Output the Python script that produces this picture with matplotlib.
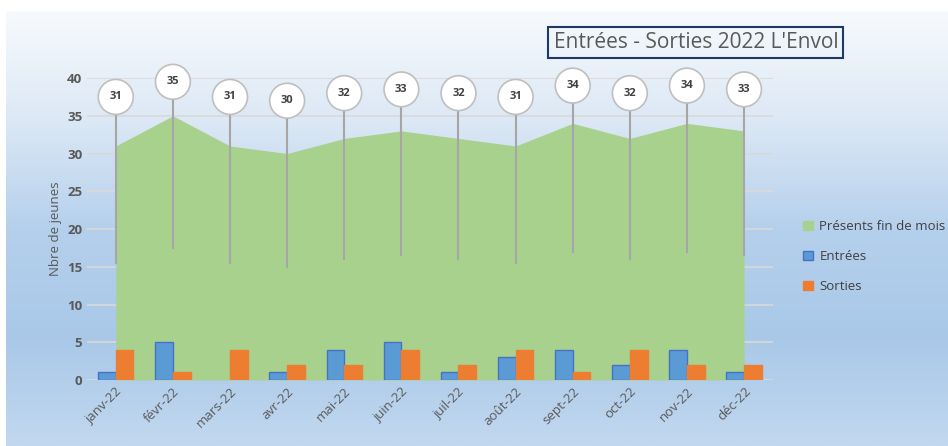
import numpy as np
import matplotlib.pyplot as plt
from matplotlib.colors import LinearSegmentedColormap
from matplotlib.patches import Patch

# Data
mois = ['janv-22', 'févr-22', 'mars-22', 'avr-22', 'mai-22', 'juin-22',
        'juil-22', 'août-22', 'sept-22', 'oct-22', 'nov-22', 'déc-22']
presents = [31, 35, 31, 30, 32, 33, 32, 31, 34, 32, 34, 33]
entrees = [1, 5, 0, 1, 4, 5, 1, 3, 4, 2, 4, 1]
sorties = [4, 1, 4, 2, 2, 4, 2, 4, 1, 4, 2, 2]

plt.rcParams['font.family'] = ['Open Sans', 'DejaVu Sans']

fig = plt.figure(figsize=(9.48, 4.46), dpi=100)

# background gradient
bg = fig.add_axes([0.006, 0, 0.994, 0.975], zorder=-10)
grad = LinearSegmentedColormap.from_list('bg', ['#f7fafd', '#dce8f5', '#b5d0ec', '#a9c8e8', '#c2d8ef'])
bg.imshow(np.linspace(0, 1, 256).reshape(-1, 1), aspect='auto', cmap=grad, extent=[0, 1, 0, 1])
bg.axis('off')

ax = fig.add_axes([0.092, 0.148, 0.723, 0.677])
ax.patch.set_alpha(0)
x = np.arange(len(mois))

ax.fill_between(x, presents, color='#a9d18e', zorder=2, linewidth=0)
w = 0.31
ax.bar(x - w / 2, entrees, width=w, color='#5b9bd5',
       edgecolor=['#4472c4' if v > 0 else 'none' for v in entrees], linewidth=1, zorder=3)
ax.bar(x + w / 2, sorties, width=w, color='#ed7d31', edgecolor='#ed7d31', linewidth=1, zorder=3)

# callout labels with leader lines
for xi, v in zip(x, presents):
    y_lab = v / 2 + 22
    ax.plot([xi, xi], [v / 2, y_lab], color='#a6a6a6', lw=1.5, zorder=4, clip_on=False)
    ax.text(xi, y_lab, str(v), ha='center', va='center', fontsize=8, fontweight='bold',
            color='#404040', zorder=5, clip_on=False,
            bbox=dict(boxstyle='circle,pad=1.0', fc='white', ec='#bfbfbf', lw=1.2))

ax.set_xlim(-0.5, 11.5)
ax.set_ylim(0, 40)
ax.set_yticks(range(0, 41, 5))
ax.yaxis.grid(True, color='#d9d9d9', lw=1.2, zorder=0)
ax.set_axisbelow(True)
for s in ax.spines.values():
    s.set_visible(False)
ax.tick_params(length=0, colors='#595959', labelsize=9.5)
ax.set_xticks(x)
ax.set_xticklabels(mois, rotation=45, ha='right', rotation_mode='anchor')
for lab in ax.get_yticklabels():
    lab.set_fontweight('bold')
ax.set_ylabel('Nbre de jeunes', color='#595959', fontsize=9.5)

fig.text(0.734, 0.905, "Entrées - Sorties 2022 L'Envol", ha='center', va='center',
         fontsize=15, color='#595959',
         bbox=dict(boxstyle='square,pad=0.25', fc='none', ec='#1f3864', lw=1.5))

handles = [Patch(color='#a9d18e'), Patch(fc='#5b9bd5', ec='#4472c4'), Patch(color='#ed7d31')]
fig.legend(handles, ['Présents fin de mois', 'Entrées', 'Sorties'], loc='center left',
           bbox_to_anchor=(0.835, 0.425), frameon=False, fontsize=9.5, labelcolor='#404040',
           handlelength=0.7, handleheight=0.7, labelspacing=1.3, handletextpad=0.5)

fig.savefig('out.png', dpi=100)
